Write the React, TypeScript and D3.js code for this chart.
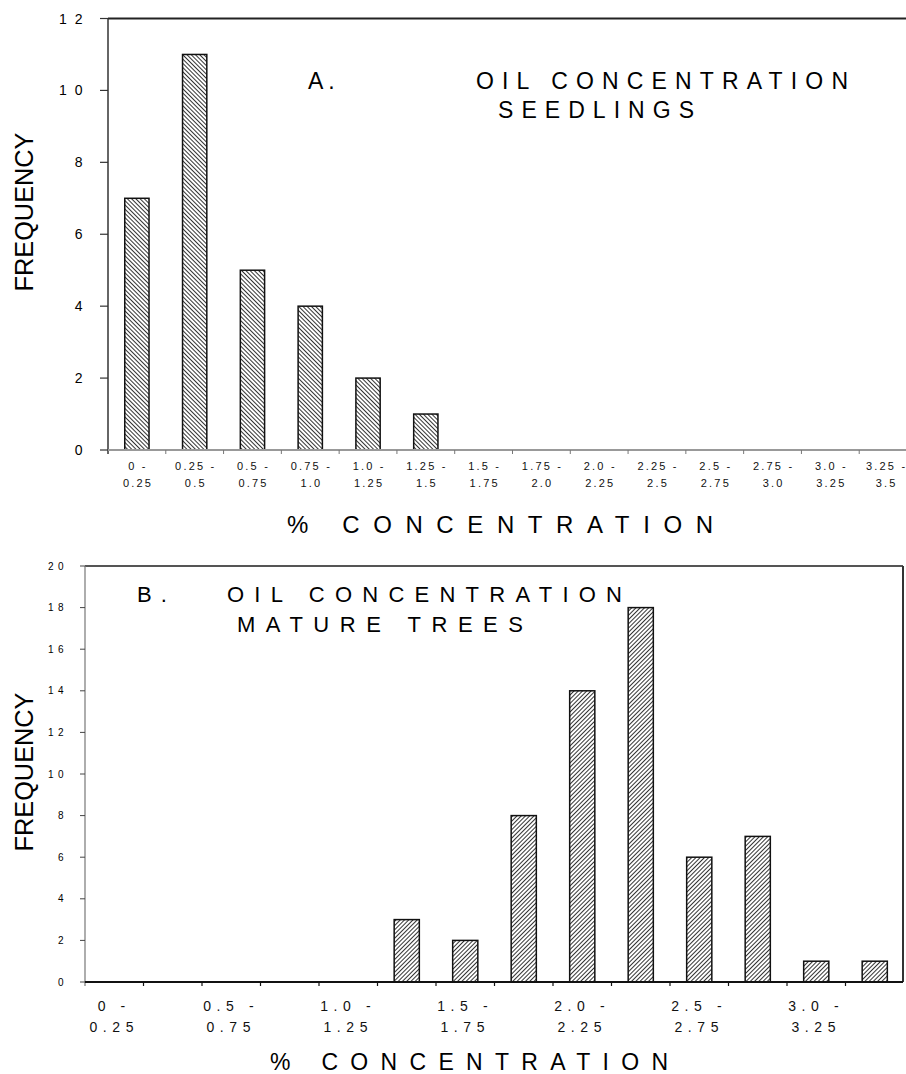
import React from "react"
import * as d3 from "d3"

// concentration bins (%)
const binLow = ["0", "0.25", "0.5", "0.75", "1.0", "1.25", "1.5", "1.75", "2.0", "2.25", "2.5", "2.75", "3.0", "3.25"]
const binHigh = ["0.25", "0.5", "0.75", "1.0", "1.25", "1.5", "1.75", "2.0", "2.25", "2.5", "2.75", "3.0", "3.25", "3.5"]
const bins = binLow.map((lo, i) => lo + "-" + binHigh[i])

// frequencies
const seedlings = [7, 11, 5, 4, 2, 1, 0, 0, 0, 0, 0, 0, 0, 0]
const mature = [0, 0, 0, 0, 0, 3, 2, 8, 14, 18, 6, 7, 1, 1]

const yTicksA = [0, 2, 4, 6, 8, 10, 12]
const yTicksB = [0, 2, 4, 6, 8, 10, 12, 14, 16, 18, 20]
// panel B only labels every other bin
const labelledB = ["0-0.25", "0.5-0.75", "1.0-1.25", "1.5-1.75", "2.0-2.25", "2.5-2.75", "3.0-3.25"]

const FONT = "'Liberation Sans', Arial, Helvetica, sans-serif"

const App = () => {
  const width = 906
  const height = 1074

  // panel A scales
  const xA = d3.scaleBand().domain(bins).range([108, 917]).paddingInner(0.58).paddingOuter(0.29)
  const yA = d3.scaleLinear().domain([0, 12]).range([450, 18.5])
  // panel B scales
  const xB = d3.scaleBand().domain(bins).range([85, 904]).paddingInner(0.57).paddingOuter(0.285)
  const yB = d3.scaleLinear().domain([0, 20]).range([982, 566])

  // bin boundaries, where the x ticks sit
  const edges = (x) => bins.map((b, i) => x.range()[0] + i * x.step()).slice(1)

  return (
    <svg
      width={width}
      height={height}
      style={{ position: "absolute", left: 0, top: 0, background: "#fff" }}
      fontFamily={FONT}
    >
      <defs>
        <pattern id="hatchA" width="3" height="3" patternUnits="userSpaceOnUse" patternTransform="rotate(-45)">
          <rect width="3" height="3" fill="#fff" />
          <line x1="0" y1="0" x2="0" y2="3" stroke="#000" strokeWidth="1.6" />
        </pattern>
        <pattern id="hatchB" width="3" height="3" patternUnits="userSpaceOnUse" patternTransform="rotate(45)">
          <rect width="3" height="3" fill="#fff" />
          <line x1="0" y1="0" x2="0" y2="3" stroke="#000" strokeWidth="1.6" />
        </pattern>
      </defs>

      {/* ---------- panel A ---------- */}
      <line x1={108} x2={906} y1={yA(12)} y2={yA(12)} stroke="#222" strokeWidth={2} />
      <line x1={108} x2={108} y1={yA(12)} y2={yA(0) + 4} stroke="#333" strokeWidth={1.5} />
      {yTicksA.map((t) => (
        <g key={t}>
          <line x1={100} x2={108} y1={yA(t)} y2={yA(t)} stroke="#333" strokeWidth={1.2} />
          <text x={90.5} y={yA(t)} dy="0.36em" textAnchor="end" fontSize={14} letterSpacing={8}>
            {t}
          </text>
        </g>
      ))}
      {seedlings.map((v, i) =>
        v > 0 ? (
          <rect
            key={bins[i]}
            x={xA(bins[i])}
            y={yA(v)}
            width={xA.bandwidth()}
            height={yA(0) - yA(v)}
            fill="url(#hatchA)"
            stroke="#111"
            strokeWidth={1.5}
          />
        ) : null
      )}
      <line x1={108} x2={906} y1={yA(0)} y2={yA(0)} stroke="#999" strokeWidth={2} />
      {edges(xA).map((x) => (
        <line key={x} x1={x} x2={x} y1={yA(0)} y2={yA(0) + 4} stroke="#777" strokeWidth={1} />
      ))}
      {bins.map((b, i) => {
        const cx = xA(b) + xA.bandwidth() / 2 + (i === bins.length - 1 ? -1.5 : 1.1)
        return (
          <text key={b} textAnchor="middle" fontSize={11} letterSpacing={2.2} fill="#111">
            <tspan x={cx} y={470}>{binLow[i] + " -"}</tspan>
            <tspan x={cx} y={487}>{binHigh[i]}</tspan>
          </text>
        )
      })}
      <text x={287} y={533} fontSize={24} textLength={426} lengthAdjust="spacing">
        % CONCENTRATION
      </text>
      <text x={0} y={0} fontSize={26} textAnchor="middle" transform="translate(33,212) rotate(-90)"
        textLength={159} lengthAdjust="spacingAndGlyphs">
        FREQUENCY
      </text>
      <text x={308} y={89} fontSize={23} letterSpacing={5}>A.</text>
      <text x={476} y={89} fontSize={23} textLength={372} lengthAdjust="spacing">
        OIL CONCENTRATION
      </text>
      <text x={498} y={118} fontSize={23} textLength={196} lengthAdjust="spacing">
        SEEDLINGS
      </text>

      {/* ---------- panel B ---------- */}
      <line x1={85} x2={903} y1={yB(20)} y2={yB(20)} stroke="#555" strokeWidth={2} />
      <line x1={903} x2={903} y1={yB(20)} y2={yB(0)} stroke="#333" strokeWidth={2} />
      <line x1={85} x2={85} y1={yB(20)} y2={yB(0) + 4} stroke="#777" strokeWidth={1.2} />
      {yTicksB.map((t) => (
        <g key={t}>
          <line x1={80} x2={85} y1={yB(t)} y2={yB(t)} stroke="#444" strokeWidth={1} />
          <text x={68} y={yB(t)} dy="0.36em" textAnchor="end" fontSize={10} letterSpacing={4.4}>
            {t}
          </text>
        </g>
      ))}
      {mature.map((v, i) =>
        v > 0 ? (
          <rect
            key={bins[i]}
            x={xB(bins[i])}
            y={yB(v)}
            width={xB.bandwidth()}
            height={yB(0) - yB(v)}
            fill="url(#hatchB)"
            stroke="#111"
            strokeWidth={1.5}
          />
        ) : null
      )}
      <line x1={85} x2={903} y1={yB(0)} y2={yB(0)} stroke="#111" strokeWidth={2} />
      {edges(xB).map((x) => (
        <line key={x} x1={x} x2={x} y1={yB(0)} y2={yB(0) + 4} stroke="#111" strokeWidth={1.2} />
      ))}
      {bins.map((b, i) => {
        if (!labelledB.includes(b)) return null
        const cx = xB(b) + xB.bandwidth() / 2
        return (
          <text key={b} textAnchor="middle" fontSize={14} letterSpacing={5.6} fill="#111">
            <tspan x={cx} y={1010.5}>{binLow[i] + " -"}</tspan>
            <tspan x={cx} y={1031.5}>{binHigh[i]}</tspan>
          </text>
        )
      })}
      <text x={270} y={1070} fontSize={23} textLength={398} lengthAdjust="spacing">
        % CONCENTRATION
      </text>
      <text x={0} y={0} fontSize={26} textAnchor="middle" transform="translate(33,772) rotate(-90)"
        textLength={159} lengthAdjust="spacingAndGlyphs">
        FREQUENCY
      </text>
      <text x={137} y={601.5} fontSize={22} letterSpacing={9}>B.</text>
      <text x={227} y={601.5} fontSize={22} textLength={395} lengthAdjust="spacing">
        OIL CONCENTRATION
      </text>
      <text x={237} y={631.5} fontSize={22} textLength={286} lengthAdjust="spacing">
        MATURE TREES
      </text>
    </svg>
  )
}

export default App
